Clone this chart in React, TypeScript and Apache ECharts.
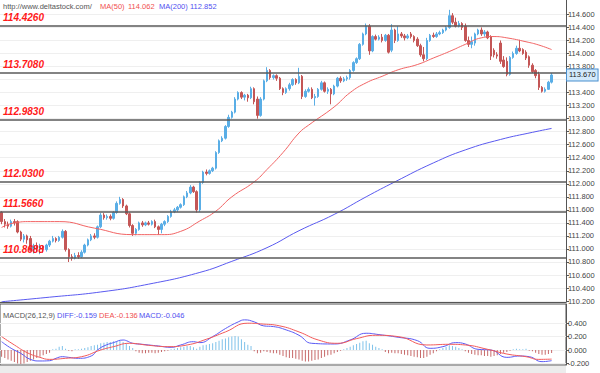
import React, { useEffect, useRef } from "react";
import * as echarts from "echarts";

// ---- data ----
// each row: [open, high, low, close]
const ohlc: number[][] = [
  [111.56, 111.58, 111.38, 111.42], [111.42, 111.46, 111.33, 111.38], [111.38, 111.42, 111.31, 111.35], [111.35, 111.45, 111.33, 111.42],
  [111.42, 111.46, 111.36, 111.40], [111.42, 111.44, 111.24, 111.26], [111.26, 111.28, 111.12, 111.15], [111.15, 111.23, 111.10, 111.20],
  [111.20, 111.22, 111.08, 111.14], [111.16, 111.20, 110.96, 110.98], [110.98, 111.08, 110.93, 111.05], [111.05, 111.10, 110.95, 111.00],
  [111.00, 111.08, 110.92, 111.04], [111.04, 111.06, 110.94, 110.99], [110.99, 111.08, 110.96, 111.06], [111.06, 111.14, 111.03, 111.12],
  [111.12, 111.20, 111.10, 111.16], [111.16, 111.18, 111.10, 111.13], [111.13, 111.20, 111.11, 111.18], [111.18, 111.30, 111.16, 111.27],
  [111.27, 111.29, 110.96, 110.99], [110.99, 111.01, 110.80, 110.88], [110.88, 110.92, 110.82, 110.86], [110.86, 110.94, 110.84, 110.90],
  [110.90, 110.95, 110.85, 110.88], [110.88, 110.98, 110.86, 110.95], [110.95, 111.08, 110.93, 111.06], [111.06, 111.16, 111.04, 111.14],
  [111.14, 111.23, 111.12, 111.20], [111.20, 111.24, 111.15, 111.18], [111.18, 111.36, 111.16, 111.34], [111.34, 111.55, 111.32, 111.52],
  [111.52, 111.55, 111.45, 111.48], [111.48, 111.53, 111.45, 111.50], [111.50, 111.53, 111.44, 111.47], [111.47, 111.58, 111.45, 111.56],
  [111.56, 111.73, 111.54, 111.70], [111.70, 111.80, 111.68, 111.76], [111.76, 111.78, 111.63, 111.66], [111.66, 111.68, 111.52, 111.54],
  [111.54, 111.56, 111.33, 111.36], [111.36, 111.38, 111.20, 111.24], [111.24, 111.32, 111.21, 111.30], [111.30, 111.42, 111.28, 111.40],
  [111.40, 111.43, 111.34, 111.37], [111.37, 111.42, 111.35, 111.40], [111.40, 111.43, 111.36, 111.38], [111.38, 111.44, 111.36, 111.42],
  [111.42, 111.45, 111.32, 111.34], [111.34, 111.36, 111.22, 111.30], [111.30, 111.40, 111.24, 111.38], [111.38, 111.44, 111.35, 111.42],
  [111.42, 111.52, 111.40, 111.50], [111.50, 111.60, 111.48, 111.57], [111.57, 111.63, 111.55, 111.60], [111.60, 111.66, 111.57, 111.64],
  [111.64, 111.70, 111.62, 111.68], [111.68, 111.82, 111.66, 111.80], [111.80, 111.89, 111.78, 111.86], [111.86, 111.98, 111.84, 111.95],
  [111.95, 111.97, 111.86, 111.88], [111.88, 111.90, 111.56, 111.60], [111.60, 112.04, 111.57, 112.02], [112.02, 112.20, 112.00, 112.18],
  [112.18, 112.22, 112.13, 112.16], [112.16, 112.22, 112.14, 112.20], [112.20, 112.26, 112.18, 112.24], [112.24, 112.50, 112.22, 112.48],
  [112.48, 112.68, 112.46, 112.66], [112.66, 112.73, 112.64, 112.70], [112.70, 112.90, 112.68, 112.88], [112.88, 113.06, 112.86, 113.02],
  [113.02, 113.12, 113.00, 113.10], [113.10, 113.33, 113.08, 113.30], [113.30, 113.42, 113.28, 113.40], [113.40, 113.42, 113.30, 113.33],
  [113.33, 113.38, 113.28, 113.36], [113.36, 113.38, 113.26, 113.32], [113.32, 113.49, 113.30, 113.46], [113.46, 113.48, 113.22, 113.26],
  [113.30, 113.34, 113.00, 113.05], [113.05, 113.33, 113.03, 113.30], [113.30, 113.60, 113.28, 113.58], [113.58, 113.79, 113.56, 113.74],
  [113.74, 113.76, 113.60, 113.63], [113.63, 113.68, 113.60, 113.66], [113.66, 113.68, 113.58, 113.62], [113.62, 113.64, 113.44, 113.46],
  [113.46, 113.48, 113.36, 113.40], [113.40, 113.48, 113.38, 113.46], [113.46, 113.55, 113.43, 113.52], [113.52, 113.62, 113.50, 113.60],
  [113.60, 113.62, 113.52, 113.55], [113.55, 113.78, 113.53, 113.65], [113.65, 113.67, 113.30, 113.34], [113.34, 113.45, 113.32, 113.42],
  [113.42, 113.48, 113.40, 113.45], [113.45, 113.48, 113.30, 113.32], [113.32, 113.38, 113.20, 113.34], [113.34, 113.47, 113.32, 113.45],
  [113.45, 113.58, 113.43, 113.55], [113.55, 113.57, 113.40, 113.42], [113.42, 113.48, 113.38, 113.45], [113.45, 113.47, 113.22, 113.38],
  [113.38, 113.52, 113.36, 113.50], [113.50, 113.64, 113.48, 113.62], [113.62, 113.65, 113.55, 113.58], [113.58, 113.64, 113.56, 113.61],
  [113.61, 113.66, 113.58, 113.63], [113.63, 113.76, 113.60, 113.74], [113.74, 113.88, 113.72, 113.86], [113.86, 113.94, 113.84, 113.92],
  [113.92, 114.16, 113.90, 114.14], [114.14, 114.32, 114.12, 114.30], [114.30, 114.46, 114.28, 114.42], [114.42, 114.45, 113.98, 114.04],
  [114.04, 114.28, 114.02, 114.26], [114.26, 114.29, 114.20, 114.22], [114.22, 114.28, 114.20, 114.25], [114.25, 114.30, 114.17, 114.20],
  [114.20, 114.30, 114.18, 114.28], [114.28, 114.30, 114.00, 114.02], [114.05, 114.45, 114.02, 114.36], [114.36, 114.38, 114.16, 114.20],
  [114.20, 114.42, 114.18, 114.30], [114.30, 114.33, 114.24, 114.27], [114.27, 114.30, 114.20, 114.24], [114.24, 114.30, 114.22, 114.27],
  [114.30, 114.33, 114.23, 114.26], [114.26, 114.28, 114.17, 114.20], [114.22, 114.25, 114.10, 114.12], [114.12, 114.15, 113.95, 113.98],
  [113.98, 114.10, 113.88, 113.92], [113.92, 114.24, 113.90, 114.20], [114.20, 114.30, 114.18, 114.28], [114.28, 114.32, 114.24, 114.26],
  [114.26, 114.33, 114.24, 114.30], [114.30, 114.35, 114.28, 114.32], [114.32, 114.38, 114.30, 114.36], [114.36, 114.42, 114.34, 114.40],
  [114.40, 114.67, 114.38, 114.58], [114.58, 114.62, 114.45, 114.48], [114.48, 114.55, 114.40, 114.42], [114.42, 114.50, 114.40, 114.46],
  [114.46, 114.48, 114.36, 114.40], [114.42, 114.46, 114.18, 114.20], [114.20, 114.26, 114.10, 114.14], [114.14, 114.26, 114.08, 114.18],
  [114.16, 114.32, 114.12, 114.30], [114.30, 114.38, 114.28, 114.36], [114.36, 114.40, 114.27, 114.30], [114.30, 114.36, 114.26, 114.33],
  [114.33, 114.35, 114.22, 114.24], [114.26, 114.28, 113.90, 113.96], [114.05, 114.08, 113.94, 113.98], [113.98, 114.02, 113.92, 113.96],
  [114.16, 114.20, 113.84, 113.88], [113.90, 113.96, 113.78, 113.80], [113.88, 113.94, 113.65, 113.68], [113.68, 113.96, 113.66, 113.94],
  [113.94, 114.03, 113.92, 114.00], [114.00, 114.12, 113.98, 114.08], [114.08, 114.21, 114.02, 114.04], [114.06, 114.08, 113.98, 114.00],
  [114.02, 114.05, 113.90, 113.93], [113.95, 113.97, 113.78, 113.82], [113.82, 113.85, 113.70, 113.72], [113.74, 113.76, 113.62, 113.66],
  [113.68, 113.72, 113.44, 113.48], [113.48, 113.50, 113.40, 113.42], [113.42, 113.48, 113.40, 113.45], [113.45, 113.58, 113.44, 113.56],
  [113.56, 113.70, 113.54, 113.67],
];

// [candle index, value]
const ma50: number[][] = [
  [0, 111.33], [4, 111.40], [9, 111.42], [18, 111.42], [29, 111.32], [41, 111.22], [50, 111.22], [56, 111.27],
  [62, 111.43], [67, 111.58], [72, 111.80], [79, 112.03], [83, 112.22], [88, 112.48], [93, 112.78], [96, 112.90],
  [104, 113.18], [109, 113.40], [114, 113.55], [119, 113.65], [124, 113.75], [130, 113.83], [135, 113.93], [140, 114.03],
  [145, 114.14], [150, 114.24], [154, 114.26], [158, 114.24], [164, 114.18], [168, 114.13], [172, 114.06],
];
const ma200: number[][] = [
  [0, 110.19], [15, 110.26], [31, 110.34], [46, 110.46], [62, 110.64], [72, 110.81], [83, 111.02], [93, 111.28],
  [104, 111.53], [114, 111.80], [123, 112.03], [135, 112.32], [145, 112.52], [156, 112.68], [166, 112.79], [172, 112.85],
];

const macdHist: number[] = [
  -0.10, -0.12, -0.14, -0.16, -0.18, -0.20, -0.21, -0.20, -0.18, -0.16,
  -0.14, -0.12, -0.10, -0.08, -0.06, -0.04, 0.01, 0.02, 0.05, 0.06,
  0.02, -0.01, -0.02, 0.01, 0.01, 0.02, 0.03, 0.04, 0.06, 0.07,
  0.08, 0.10, 0.11, 0.12, 0.12, 0.13, 0.13, 0.14, 0.12, 0.10,
  0.06, 0.03, -0.02, -0.04, -0.05, -0.05, -0.04, -0.04, -0.05, -0.04,
  -0.03, -0.02, -0.01, 0.01, 0.02, 0.03, 0.04, 0.05, 0.06, 0.06,
  0.04, 0.02, 0.05, 0.07, 0.08, 0.09, 0.10, 0.12, 0.14, 0.16,
  0.17, 0.19, 0.20, 0.21, 0.20, 0.16, 0.12, 0.08, 0.06, -0.02,
  -0.05, -0.04, -0.02, -0.03, -0.04, -0.05, -0.05, -0.07, -0.09, -0.11,
  -0.12, -0.12, -0.13, -0.14, -0.16, -0.17, -0.17, -0.16, -0.15, -0.14,
  -0.12, -0.10, -0.08, -0.07, -0.05, -0.03, -0.01, 0.01, 0.03, 0.05,
  0.07, 0.09, 0.11, 0.13, 0.14, 0.10, 0.08, 0.05, 0.03, 0.01,
  -0.03, -0.05, -0.04, -0.05, -0.05, -0.06, -0.07, -0.08, -0.09, -0.10,
  -0.11, -0.12, -0.12, -0.10, -0.07, -0.05, -0.02, 0.01, 0.03, 0.05,
  0.07, 0.06, 0.05, 0.03, 0.01, -0.02, -0.04, -0.06, -0.07, -0.08,
  -0.08, -0.09, -0.09, -0.10, -0.09, -0.08, -0.06, -0.04, -0.03, -0.01,
  0.01, 0.02, 0.01, 0.01, 0.02, -0.01, -0.02, -0.04, -0.06, -0.07,
  -0.07, -0.06, -0.046,
];
const diff: number[][] = [
  [0, 0.124], [3, 0.025], [6, -0.05], [9, -0.14], [12, -0.164], [15, -0.16], [17, -0.124], [19, -0.10],
  [21, -0.11], [24, -0.124], [28, -0.09], [30, 0.0], [32, 0.06], [35, 0.11], [38, 0.149], [39, 0.14],
  [41, 0.10], [44, 0.085], [49, 0.06], [53, 0.04], [56, 0.075], [60, 0.124], [62, 0.11], [66, 0.20],
  [70, 0.32], [74, 0.42], [76, 0.45], [79, 0.42], [82, 0.36], [85, 0.35], [89, 0.30], [93, 0.22],
  [97, 0.10], [104, 0.09], [109, 0.15], [114, 0.25], [118, 0.23], [124, 0.19], [130, 0.14], [134, 0.025],
  [138, 0.05], [142, 0.11], [145, 0.09], [149, 0.01], [153, 0.0], [158, -0.11], [162, -0.09], [165, -0.10],
  [169, -0.174], [172, -0.159],
];
const dea: number[][] = [
  [0, 0.20], [4, 0.075], [8, -0.04], [12, -0.11], [15, -0.14], [20, -0.124], [25, -0.10], [31, 0.0],
  [35, 0.05], [40, 0.10], [46, 0.07], [52, 0.05], [58, 0.075], [64, 0.16], [70, 0.27], [77, 0.40],
  [81, 0.39], [87, 0.36], [93, 0.27], [99, 0.15], [105, 0.10], [111, 0.17], [117, 0.22], [124, 0.20],
  [133, 0.075], [140, 0.085], [145, 0.075], [152, 0.01], [158, -0.06], [164, -0.10], [168, -0.14], [172, -0.136],
];

const levels: number[] = [114.426, 113.708, 112.983, 112.03, 111.566, 110.8688];
const levelLabels: string[] = ["114.4260", "113.7080", "112.9830", "112.0300", "111.5660", "110.8688"];
const lastPrice = 113.67;
const lastPriceLabel = "113.670";
const priceTicks: number[] = [110.2, 110.4, 110.6, 110.8, 111.0, 111.2, 111.4, 111.6, 111.8, 112.0, 112.2, 112.4, 112.6, 112.8, 113.0, 113.2, 113.4, 113.6, 113.8, 114.0, 114.2, 114.4, 114.6];
// 113.600 sits under the last-price tag in the reference, so it has no visible label
const priceLabels: number[] = priceTicks.filter((v) => v !== 113.6);
const macdTicks: number[] = [-0.2, 0, 0.2, 0.4];
const slotCount = 177;

const siteText = "http://www.deltastock.com/";
const ma50Text = ["MA(50)", "114.062"];
const ma200Text = ["MA(200)", "112.852"];
const macdTexts = ["MACD(26,12,9)", "DIFF:-0.159", "DEA:-0.136", "MACD:-0.046"];

const UP = "#5aaee6";
const DOWN = "#c45656";
const FONT = '"Liberation Sans", Arial, sans-serif';

export default function App() {
  const ref = useRef<HTMLDivElement>(null);
  useEffect(() => {
    document.body.style.margin = "0";
    if (!ref.current) return;
    const chart = echarts.init(ref.current, undefined, { renderer: "svg" });
    const cats = Array.from({ length: slotCount }, (_, i) => String(i));
    const candleData = ohlc.map((r) => [r[0], r[3], r[2], r[1]]);
    const small = (text: string, x: number, y: number, fill: string) => ({
      type: "text",
      x,
      y,
      style: { text, fill, font: `7.5px ${FONT}`, verticalAlign: "middle" },
      z: 100,
    });

    chart.setOption({
      animation: false,
      backgroundColor: "#ffffff",
      grid: [
        { left: 0, right: 34, top: 0, height: 302 },
        { left: 0, right: 34, top: 304, height: 61, show: true, borderColor: "#555", borderWidth: 1 },
      ],
      xAxis: [
        {
          type: "category", gridIndex: 0, data: cats, boundaryGap: true,
          axisLine: { show: true, lineStyle: { color: "#555", width: 1 } },
          axisTick: { show: false }, axisLabel: { show: false }, splitLine: { show: false },
        },
        {
          type: "category", gridIndex: 1, data: cats, boundaryGap: true,
          axisLine: { show: false }, axisTick: { show: false }, axisLabel: { show: false }, splitLine: { show: false },
        },
      ],
      yAxis: [
        {
          type: "value", gridIndex: 0, position: "right", min: 110.186, max: 114.821, scale: true,
          axisLine: { show: true, lineStyle: { color: "#555" } },
          axisTick: { show: true, length: 3, customValues: priceTicks, lineStyle: { color: "#555" } },
          axisLabel: {
            customValues: priceLabels, formatter: (v: number) => v.toFixed(3),
            color: "#444", fontSize: 7.5, fontFamily: FONT, margin: 2,
          },
          splitLine: { show: true, lineStyle: { color: "#efefef", width: 1 } },
        },
        {
          type: "value", gridIndex: 1, position: "right", min: -0.224, max: 0.687,
          axisLine: { show: true, lineStyle: { color: "#555" } },
          axisTick: { show: true, length: 3, customValues: macdTicks, lineStyle: { color: "#555" } },
          axisLabel: {
            customValues: macdTicks, formatter: (v: number) => v.toFixed(3),
            color: "#444", fontSize: 7.5, fontFamily: FONT, margin: 2,
          },
          splitLine: { show: true, lineStyle: { color: "#efefef", width: 1 } },
        },
      ],
      series: [
        {
          type: "candlestick", xAxisIndex: 0, yAxisIndex: 0, data: candleData, barWidth: 2,
          itemStyle: { color: UP, color0: DOWN, borderColor: UP, borderColor0: DOWN, borderWidth: 1 },
          markLine: {
            silent: true, symbol: ["none", "none"], animation: false,
            lineStyle: { color: "#5a5a5a", width: 1.5, type: "solid" },
            label: {
              show: true, position: "insideStartTop", distance: [3, 3],
              formatter: (p: any) => p.name,
              color: "#ff1a1a", fontStyle: "italic", fontWeight: "bold", fontSize: 10, fontFamily: FONT,
            },
            data: levels.map((v, i) => ({ yAxis: v, name: levelLabels[i] })),
          },
          z: 3,
        },
        {
          // invisible helper line that carries the last-price tag on the right edge
          type: "line", xAxisIndex: 0, yAxisIndex: 0, data: [], symbol: "none",
          markLine: {
            silent: true, symbol: ["none", "none"], animation: false,
            lineStyle: { color: "rgba(255,255,255,0)", width: 1, type: "solid" },
            label: {
              show: true, position: "end", distance: 1, formatter: (p: any) => p.name,
              color: "#222", fontSize: 7.5, fontFamily: FONT,
              backgroundColor: "#d3eafb", borderColor: "#4a90d0", borderWidth: 1, padding: [2, 2, 1, 2],
            },
            data: [{ yAxis: lastPrice, name: lastPriceLabel }],
          },
          z: 5,
        },
        {
          type: "line", xAxisIndex: 0, yAxisIndex: 0, data: ma50, smooth: true, showSymbol: false,
          symbol: "none", lineStyle: { color: "#f26464", width: 1 }, z: 4,
        },
        {
          type: "line", xAxisIndex: 0, yAxisIndex: 0, data: ma200, smooth: true, showSymbol: false,
          symbol: "none", lineStyle: { color: "#5a5af0", width: 1 }, z: 4,
        },
        {
          type: "bar", xAxisIndex: 1, yAxisIndex: 1, data: macdHist, barWidth: 1,
          itemStyle: { color: (p: any) => (p.value >= 0 ? "#7fc2ea" : "#c76a6a") },
        },
        {
          type: "line", xAxisIndex: 1, yAxisIndex: 1, data: diff, smooth: true, symbol: "none",
          lineStyle: { color: "#5a5af5", width: 1 }, z: 4,
        },
        {
          type: "line", xAxisIndex: 1, yAxisIndex: 1, data: dea, smooth: true, symbol: "none",
          lineStyle: { color: "#f25a5a", width: 1 }, z: 4,
        },
      ],
      graphic: [
        { type: "rect", shape: { x: 0, y: 366, width: 566, height: 7 }, style: { fill: "#ececec" }, z: 90 },
        small(siteText, 3, 6, "#555"),
        small(ma50Text[0], 100, 6, "#f05050"),
        small(ma50Text[1], 128, 6, "#f05050"),
        small(ma200Text[0], 159, 6, "#5050f0"),
        small(ma200Text[1], 190, 6, "#5050f0"),
        small(macdTexts[0], 3, 315, "#555"),
        small(macdTexts[1], 57, 315, "#5050f0"),
        small(macdTexts[2], 99, 315, "#f05050"),
        small(macdTexts[3], 139, 315, "#5050f0"),
      ],
    });
    return () => chart.dispose();
  }, []);
  return <div ref={ref} style={{ width: 600, height: 373 }} />;
}
